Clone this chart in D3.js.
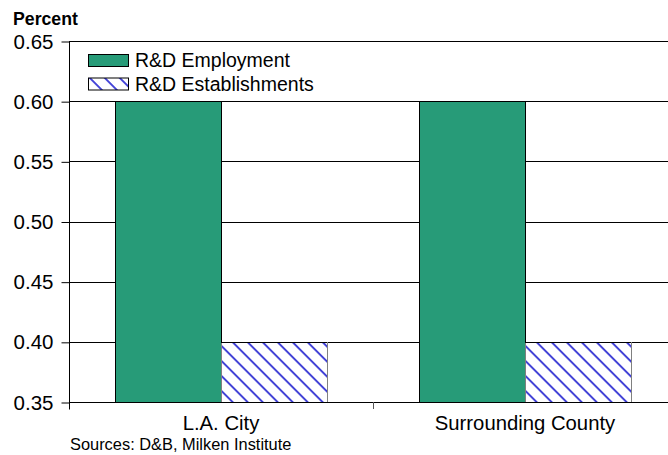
<!DOCTYPE html>
<html>
<head>
<meta charset="utf-8">
<script src="https://cdn.jsdelivr.net/npm/d3@7"></script>
<style>
  html, body { margin: 0; padding: 0; background: #fff; }
  svg { display: block; font-family: "Liberation Sans", Arial, sans-serif; }
</style>
</head>
<body>
<div id="chart"></div>
<script>
// R&D employment vs. establishments share, by area
const categories = ["L.A. City", "Surrounding County"];
const seriesNames = ["R&D Employment", "R&D Establishments"];
const employment = [0.60, 0.60];
const establishments = [0.40, 0.40];
const yTicks = [0.35, 0.40, 0.45, 0.50, 0.55, 0.60, 0.65];

const W = 668, H = 455;
const margin = { left: 69, top: 41, bottom: 53 };
const plotRight = 677;
const y0 = H - margin.bottom; // bottom of plot

const svg = d3.select("#chart").append("svg")
  .attr("width", W).attr("height", H);

const defs = svg.append("defs");
const sp = 10.6;
const pat = defs.append("pattern")
  .attr("id", "hatch")
  .attr("patternUnits", "userSpaceOnUse")
  .attr("width", sp).attr("height", sp)
  .attr("patternTransform", "rotate(-45)");
pat.append("rect").attr("width", sp).attr("height", sp).attr("fill", "#fff");
pat.append("line")
  .attr("x1", 1).attr("y1", 0).attr("x2", 1).attr("y2", sp)
  .attr("stroke", "#2a2ad2").attr("stroke-width", 1.7);

const x = d3.scaleBand().domain(categories)
  .range([margin.left, plotRight]).paddingInner(0).paddingOuter(0);
const y = d3.scaleLinear().domain([0.35, 0.65]).range([y0, margin.top]);
const inner = d3.scaleBand().domain(seriesNames)
  .range([0, x.bandwidth()]).paddingInner(0).paddingOuter(0.434);

// gridlines
svg.append("g").selectAll("line").data(yTicks).join("line")
  .attr("x1", margin.left).attr("x2", W)
  .attr("y1", d => Math.round(y(d)) + 0.5).attr("y2", d => Math.round(y(d)) + 0.5)
  .attr("stroke", "#000").attr("stroke-width", 1);

const rows = categories.map((c, i) => ({ c, vals: [employment[i], establishments[i]] }));

const groups = svg.append("g").selectAll("g").data(rows).join("g")
  .attr("transform", d => `translate(${Math.round(x(d.c))},0)`);

groups.selectAll("rect").data(d => d.vals.map((v, j) => ({ v, s: seriesNames[j] })))
  .join("rect")
  .attr("x", d => Math.round(inner(d.s)) + 0.5)
  .attr("width", Math.round(inner.bandwidth()))
  .attr("y", d => Math.round(y(d.v)) + 0.5)
  .attr("height", d => y0 - Math.round(y(d.v)))
  .attr("fill", d => d.s === seriesNames[0] ? "#279b78" : "url(#hatch)")
  .attr("stroke", d => d.s === seriesNames[0] ? "#000" : "#808080")
  .attr("stroke-width", 1);

// black top edge on hatched bars
groups.selectAll("line.top").data(d => [d.vals[1]]).join("line")
  .attr("class", "top")
  .attr("x1", Math.round(inner(seriesNames[1])))
  .attr("x2", Math.round(inner(seriesNames[1])) + Math.round(inner.bandwidth()))
  .attr("y1", d => Math.round(y(d)) + 0.5).attr("y2", d => Math.round(y(d)) + 0.5)
  .attr("stroke", "#000");

// bottom baseline
svg.append("line")
  .attr("x1", margin.left).attr("x2", W)
  .attr("y1", Math.round(y0) + 0.5).attr("y2", Math.round(y0) + 0.5)
  .attr("stroke", "#000");

// y axis
const yAxis = d3.axisLeft(y).tickValues(yTicks).tickFormat(d3.format(".2f"))
  .tickSize(8).tickPadding(8);
const yg = svg.append("g").attr("transform", `translate(${margin.left + 0.5},0.5)`).call(yAxis);
yg.select(".domain").attr("d", `M0,${margin.top}V${y0 + 7}`).attr("stroke", "#000");
yg.selectAll(".tick text").attr("font-size", 20.5).attr("fill", "#000")
  .attr("font-family", "Liberation Sans, Arial, sans-serif");
yg.selectAll(".tick line").attr("stroke", "#000");

// x axis tick between categories
svg.append("line")
  .attr("x1", Math.round(x(categories[1])) + 0.5).attr("x2", Math.round(x(categories[1])) + 0.5)
  .attr("y1", y0).attr("y2", y0 + 7)
  .attr("stroke", "#555");

svg.append("g").selectAll("text").data(categories).join("text")
  .attr("x", d => x(d) + x.bandwidth() / 2)
  .attr("y", 430)
  .attr("text-anchor", "middle")
  .attr("font-size", 20.3)
  .text(d => d);

// y label
svg.append("text").attr("x", 13).attr("y", 25)
  .attr("font-size", 17.7).attr("font-weight", "bold").text("Percent");

// source note
svg.append("text").attr("x", 70).attr("y", 450)
  .attr("font-size", 16.4).text("Sources: D&B, Milken Institute");

// legend
const legend = svg.append("g").attr("transform", "translate(88,54)");
const items = legend.selectAll("g").data(seriesNames).join("g")
  .attr("transform", (d, i) => `translate(0,${i * 23.5})`);
items.append("rect")
  .attr("x", 0.5).attr("y", 0.5).attr("width", 40).attr("height", 12)
  .attr("fill", (d, i) => i === 0 ? "#279b78" : "url(#hatch)")
  .attr("stroke", "#000");
items.append("text").attr("x", 47).attr("y", 13)
  .attr("font-size", 19.5).text(d => d);
</script>
</body>
</html>
